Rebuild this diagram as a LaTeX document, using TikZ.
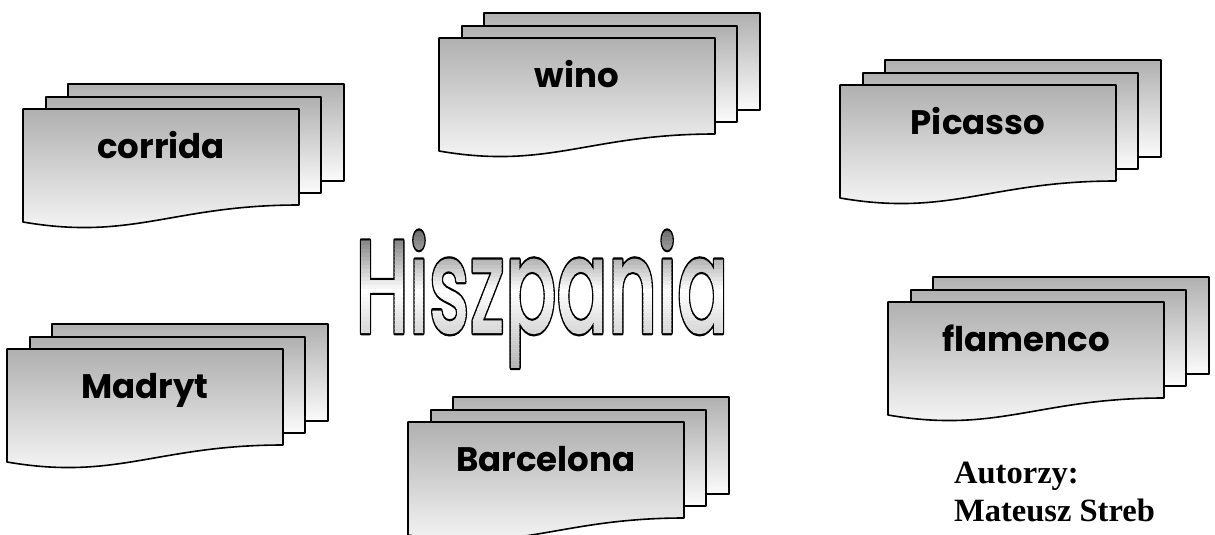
\documentclass[tikz,border=0pt]{standalone}
\usepackage{fontspec}
\usepackage{graphicx}
\setmainfont{Liberation Serif}
\newfontfamily\labelfont{Poppins}
\newfontfamily\titlefont{Poppins}[UprightFont={* Medium}]
\newdimen\gtwd
\newsavebox\gtbox
% text filled with a vertical gradient (bands) and outlined in black
\newcommand\gradtext[1]{%
  \sbox\gtbox{#1}%
  \gtwd=\wd\gtbox
  \special{pdf:literal direct q 0 G 4.6 w 1 j 6 Tr}%
  \usebox\gtbox
  \special{pdf:literal direct 0 Tr}%
  \hskip-\gtwd
  \rlap{\begin{tikzpicture}[x=1pt,y=1pt,baseline=0pt]
    \foreach \yy in {-40,-36,...,100}{
      \pgfmathsetmacro\pc{\yy>40 ? (\yy-40)/55*52 : (40-\yy)/80*30}
      \fill[black!\pc] (-10,\yy) rectangle (\gtwd+10,\yy+4.6);
    }
  \end{tikzpicture}}%
  \hskip\gtwd
  \special{pdf:literal direct Q}%
}
\tikzset{
  sheet/.style={draw=black, line width=1.6pt, line join=round,
    top color=gray!62, bottom color=gray!3},
  labeltext/.style={font=\labelfont\bfseries\fontsize{34}{40}\selectfont, inner sep=0pt},
  authortext/.style={font=\bfseries\fontsize{32.5}{38}\selectfont, inner sep=0pt, anchor=base west},
  mdoc/.pic={
    \path[sheet] (45,-25) rectangle (321,72);
    \path[sheet] (23,-12) rectangle (298,84);
    \path[sheet] (0,0) -- (276,0) -- (276,96)
       .. controls (150,96) and (110,132) .. (0,113) -- cycle;
    \node[labeltext, anchor=base] (-text) at (138,49) {#1};
  }
}
\begin{document}
\begin{tikzpicture}[x=1pt, y=-1pt]
\useasboundingbox (0,0) rectangle (1215,535);
\pic (corrida) at (23,109) {mdoc=corrida};
\pic (wino) at (439,38) {mdoc=wino};
\pic (picasso) at (840,85) {mdoc=Picasso};
\pic (flamenco) at (888,302) {mdoc=flamenco};
\pic (madryt) at (7,349) {mdoc=Madryt};
\pic (barcelona) at (408,422) {mdoc=Barcelona};
\node[anchor=base, inner sep=0pt] (title) at (542,333)
  {\scalebox{0.57}[1]{\titlefont\fontsize{133}{140}\selectfont\gradtext{Hiszpania}}};
\node[authortext] (autorzy) at (954,483) {Autorzy:};
\node[authortext] (autor) at (954,521) {Mateusz Streb};
\end{tikzpicture}
\end{document}
